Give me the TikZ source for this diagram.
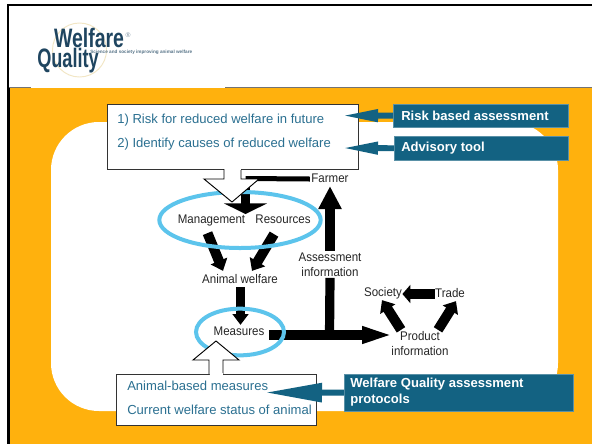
\documentclass[tikz,border=0pt]{standalone}
\usepackage{fontspec}
\setmainfont{Liberation Sans}
\usetikzlibrary{arrows.meta,calc,shapes.geometric}
\definecolor{wqorange}{HTML}{FFB10D}
\definecolor{wqblue}{HTML}{5CC4EC}
\definecolor{wqteal}{HTML}{136282}
\definecolor{wqtext}{HTML}{2B7091}
\definecolor{wqnavy}{HTML}{1F4560}
\definecolor{wqcream}{HTML}{F2E6C4}
\tikzset{
  lab/.style={font=\fontsize{9.4pt}{10pt}\selectfont,xscale=.92,text=black!85,inner sep=1pt,text height=6.5pt,text depth=1.8pt},
  lab2/.style={font=\fontsize{9.4pt}{11.2pt}\selectfont,xscale=.92,text=black!85,align=center,inner sep=1pt},
  boxtxt/.style={font=\fontsize{9.8pt}{10pt}\selectfont,text=wqtext,anchor=west,inner sep=0pt},
  infobox/.style={draw=black!80,line width=0.9pt,fill=white,inner sep=0pt},
  callout/.style={fill=wqteal,draw=wqteal!70!white,line width=0.3pt,inner sep=0pt},
  callouttxt/.style={font=\bfseries\fontsize{9.8pt}{12pt}\selectfont,text=white,anchor=west,align=left,inner sep=0pt},
  ring/.style={draw=wqblue,line width=3pt,ellipse},
  fat/.style={draw=black,line width=6.9pt},
  slant/.style={draw=black,line width=7.5pt,-{Triangle[length=8pt,width=13pt]}},
  hollow/.style={draw=black,line width=0.7pt,fill=white,line join=miter},
  pointer/.style={draw=wqteal,line width=4.4pt,-{Triangle[length=28.5pt,width=8.5pt]}}
}
\begin{document}
\begin{tikzpicture}[x=0.75pt,y=-0.75pt]
\useasboundingbox (0,0) rectangle (592,444);
\fill[white] (0,0) rectangle (592,444);
% slide
\fill[wqorange] (9,88) rectangle (592,444);
\fill[white,rounded corners=36pt] (51,122) rectangle (558,411);
\fill[black] (6.5,3.5) rectangle (592,5.5);
\fill[black] (6.5,3.5) rectangle (8.7,88);
\fill[black] (6.5,88) rectangle (9.7,444);
\fill[black!55] (9,86.6) rectangle (592,87.8);
% logo
\fill[white] (31,15) rectangle (225,88);
\draw[wqcream,line width=0.7pt] (79.5,50) circle (27);
\node[inner sep=0pt,font=\bfseries\fontsize{20pt}{20pt}\selectfont,text=wqnavy,xscale=.73] (welfarelogo) at (89,38) {Welfare};
\node[inner sep=0pt,font=\bfseries\fontsize{20pt}{20pt}\selectfont,text=wqnavy,xscale=.68] (qualitylogo) at (68,61) {Quality};
\node[inner sep=0pt,font=\fontsize{5pt}{5pt}\selectfont,text=wqnavy!60] (reglogo) at (128,35) {®};
\node[inner sep=0pt,font=\bfseries\fontsize{3.5pt}{4pt}\selectfont,text=wqnavy!75,anchor=west] (taglogo) at (90,52) {Science and society improving animal welfare};
% text boxes
\node[infobox,minimum width=188.2pt,minimum height=48.8pt,anchor=north west] (riskbox) at (107,104) {};
\node[infobox,minimum width=150pt,minimum height=38.2pt,anchor=north west] (animalbox) at (116,374) {};
\node[boxtxt] (t1) at (117,120) {1) Risk for reduced welfare in future};
\node[boxtxt] (t2) at (117,144.5) {2) Identify causes of reduced welfare};
\node[boxtxt] (t3) at (127,386) {Animal-based measures};
\node[boxtxt] (t4) at (127,410) {Current welfare status of animal};
% text labels
\node[lab] (farmer) at (330,179) {Farmer};
\node[lab] (mgmt) at (211.5,220) {Management};
\node[lab] (res) at (283,220) {Resources};
\node[lab] (welfare) at (240,280) {Animal welfare};
\node[lab] (measures) at (239,332) {Measures};
\node[lab2] (assess) at (330,264.5) {Assessment\\information};
\node[lab] (society) at (383,293) {Society};
\node[lab] (trade) at (450,294) {Trade};
\node[lab2] (product) at (420,343.5) {Product\\information};
% black arrows
\coordinate (fbend) at (245.5,178.5);
\coordinate (ftip) at (245.5,214);
\draw[draw=black,line width=3.75pt] (farmer.west) -- (fbend);
\draw[fat,-{Triangle[length=8pt,width=32.25pt]}] (fbend) -- (ftip);
\draw[slant] ($(mgmt.south)+(-4,6)$) -- ($(welfare.north)+(-17,-2)$);
\draw[slant] ($(res.south)+(-9,7)$) -- ($(welfare.north)+(12,-2)$);
\draw[fat,-{Triangle[length=8pt,width=11.5pt]}] ($(welfare.south)+(0.5,0)$) -- ($(measures.north)+(1.5,0)$);
\coordinate (mainend) at (395,335);
\draw[fat,-{Triangle[length=24.75pt,width=11.25pt]}] ($(measures.east)+(3,3)$) -- (mainend);
\draw[fat] (329.5,336) -- (assess.south);
\draw[fat,-{Triangle[length=17.25pt,width=16.5pt]}] (assess.north) -- (farmer.south);
\draw[fat,-{Triangle[length=6pt,width=13.5pt]}] ($(trade.west)+(1,0)$) -- ($(society.east)+(-1,1)$);
\draw[slant] ($(product.north)+(-19,0)$) -- ($(society.south)+(-1,0)$);
\draw[slant] ($(product.north)+(18,0)$) -- ($(trade.south)+(6,0)$);
% rings
\node[ring,minimum width=121pt,minimum height=42pt,inner sep=0pt] (ring1) at (240,220) {};
\node[ring,minimum width=66pt,minimum height=35pt,inner sep=0pt] (ring2) at (240,332) {};
% hollow arrows
\draw[hollow] (224,169) -- (224,179) -- (204,179) -- (232,202) -- (259,179) -- (241,179) -- (241,169);
\fill[white] (224.5,168) rectangle (240.5,170);
\draw[hollow] (209,374) -- (209,360) -- (193,360) -- (216,341) -- (239,360) -- (223,360) -- (223,374);
\fill[white] (209.5,373) rectangle (222.5,375);
% callouts
\node[callout,minimum width=131.2pt,minimum height=17.2pt,anchor=north west] (risk) at (393,104) {};
\node[callouttxt] at (401,115.5) {Risk based assessment};
\node[callout,minimum width=130.5pt,minimum height=18pt,anchor=north west] (advisory) at (394,136) {};
\node[callouttxt] at (401,148) {Advisory tool};
\node[callout,minimum width=171.7pt,minimum height=27.7pt,anchor=north west] (wq) at (344,374) {};
\node[callouttxt] at (350,392.5) {Welfare Quality assessment\\protocols};
\coordinate (tipa) at (340,115.6);
\coordinate (tipb) at (340,148);
\coordinate (tipc) at (265,392.5);
\draw[pointer] (risk.west) -- (tipa);
\draw[pointer] (advisory.west) -- (tipb);
\draw[pointer,-{Triangle[length=42.75pt,width=13.5pt]}] (wq.west) -- (tipc);
\end{tikzpicture}
\end{document}
